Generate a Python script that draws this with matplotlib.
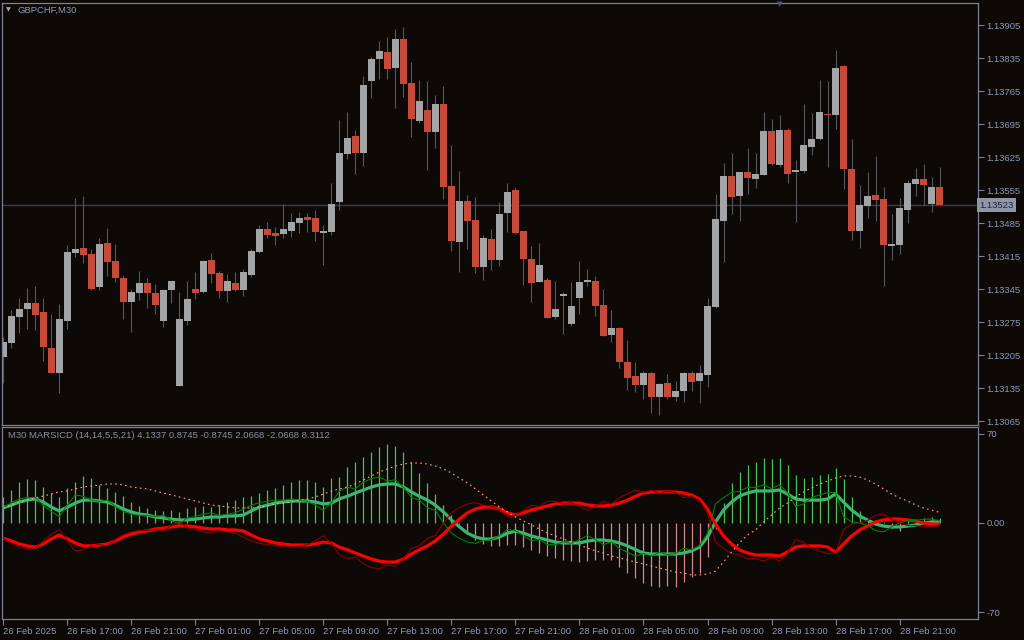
import numpy as np
import matplotlib.pyplot as plt

# GBPCHF M30 candles (26 Feb 13:00 -> 28 Feb 23:30)
opens = [1.13201, 1.13231, 1.13286, 1.13303, 1.13316, 1.13297, 1.13220, 1.13167, 1.13278, 1.13422,
         1.13432, 1.13419, 1.13350, 1.13443, 1.13405, 1.13369, 1.13318, 1.13337, 1.13358, 1.13337,
         1.13278, 1.13343, 1.13140, 1.13278, 1.13345, 1.13339, 1.13407, 1.13379, 1.13341, 1.13358,
         1.13343, 1.13375, 1.13424, 1.13472, 1.13464, 1.13462, 1.13468, 1.13485, 1.13498, 1.13496,
         1.13464, 1.13466, 1.13530, 1.13632, 1.13670, 1.13634, 1.13786, 1.13833, 1.13848, 1.13814,
         1.13875, 1.13782, 1.13701, 1.13725, 1.13678, 1.13737, 1.13564, 1.13445, 1.13532, 1.13492,
         1.13392, 1.13451, 1.13407, 1.13506, 1.13555, 1.13468, 1.13409, 1.13360, 1.13364, 1.13286,
         1.13330, 1.13271, 1.13326, 1.13360, 1.13362, 1.13311, 1.13248, 1.13263, 1.13191, 1.13161,
         1.13142, 1.13167, 1.13116, 1.13146, 1.13116, 1.13129, 1.13167, 1.13150, 1.13163, 1.13307,
         1.13489, 1.13585, 1.13543, 1.13593, 1.13579, 1.13587, 1.13680, 1.13608, 1.13682, 1.13593,
         1.13596, 1.13646, 1.13663, 1.13717, 1.13714, 1.13818, 1.13600, 1.13468, 1.13521, 1.13545,
         1.13536, 1.13437, 1.13439, 1.13513, 1.13568, 1.13579, 1.13526, 1.13562]
highs = [1.13244, 1.13301, 1.13326, 1.13347, 1.13352, 1.13326, 1.13292, 1.13314, 1.13439, 1.13538,
         1.13543, 1.13430, 1.13453, 1.13475, 1.13441, 1.13375, 1.13345, 1.13384, 1.13369, 1.13356,
         1.13345, 1.13362, 1.13339, 1.13362, 1.13381, 1.13407, 1.13422, 1.13384, 1.13377, 1.13381,
         1.13388, 1.13430, 1.13481, 1.13487, 1.13477, 1.13526, 1.13506, 1.13508, 1.13506, 1.13513,
         1.13481, 1.13570, 1.13704, 1.13721, 1.13682, 1.13797, 1.13837, 1.13871, 1.13880, 1.13897,
         1.13901, 1.13827, 1.13788, 1.13786, 1.13757, 1.13776, 1.13651, 1.13596, 1.13545, 1.13541,
         1.13460, 1.13472, 1.13530, 1.13570, 1.13562, 1.13468, 1.13436, 1.13443, 1.13369, 1.13362,
         1.13339, 1.13360, 1.13405, 1.13388, 1.13373, 1.13345, 1.13301, 1.13265, 1.13237, 1.13191,
         1.13172, 1.13169, 1.13146, 1.13165, 1.13150, 1.13169, 1.13172, 1.13184, 1.13326, 1.13547,
         1.13612, 1.13634, 1.13593, 1.13644, 1.13634, 1.13721, 1.13706, 1.13714, 1.13687, 1.13619,
         1.13737, 1.13719, 1.13788, 1.13786, 1.13852, 1.13820, 1.13663, 1.13566, 1.13593, 1.13627,
         1.13562, 1.13504, 1.13538, 1.13576, 1.13602, 1.13610, 1.13583, 1.13604]
lows = [1.13146, 1.13220, 1.13252, 1.13261, 1.13258, 1.13193, 1.13167, 1.13125, 1.13261, 1.13413,
        1.13400, 1.13343, 1.13343, 1.13373, 1.13360, 1.13282, 1.13254, 1.13322, 1.13305, 1.13292,
        1.13265, 1.13316, 1.13140, 1.13269, 1.13324, 1.13337, 1.13358, 1.13326, 1.13318, 1.13341,
        1.13330, 1.13371, 1.13422, 1.13453, 1.13439, 1.13453, 1.13456, 1.13464, 1.13466, 1.13447,
        1.13396, 1.13460, 1.13513, 1.13621, 1.13589, 1.13606, 1.13750, 1.13791, 1.13791, 1.13729,
        1.13752, 1.13668, 1.13697, 1.13598, 1.13644, 1.13536, 1.13426, 1.13381, 1.13430, 1.13379,
        1.13364, 1.13386, 1.13394, 1.13466, 1.13462, 1.13354, 1.13318, 1.13360, 1.13284, 1.13282,
        1.13250, 1.13267, 1.13292, 1.13352, 1.13288, 1.13246, 1.13233, 1.13178, 1.13131, 1.13127,
        1.13112, 1.13082, 1.13078, 1.13112, 1.13108, 1.13106, 1.13129, 1.13104, 1.13138, 1.13305,
        1.13403, 1.13504, 1.13490, 1.13547, 1.13559, 1.13587, 1.13608, 1.13604, 1.13570, 1.13487,
        1.13591, 1.13629, 1.13661, 1.13604, 1.13685, 1.13557, 1.13449, 1.13432, 1.13496, 1.13490,
        1.13352, 1.13407, 1.13420, 1.13485, 1.13543, 1.13524, 1.13509, 1.13523]
closes = [1.13233, 1.13288, 1.13303, 1.13316, 1.13290, 1.13222, 1.13167, 1.13282, 1.13424, 1.13430,
          1.13417, 1.13345, 1.13441, 1.13403, 1.13369, 1.13318, 1.13339, 1.13358, 1.13337, 1.13311,
          1.13343, 1.13362, 1.13282, 1.13324, 1.13337, 1.13405, 1.13377, 1.13341, 1.13362, 1.13343,
          1.13381, 1.13426, 1.13472, 1.13460, 1.13458, 1.13472, 1.13487, 1.13496, 1.13492, 1.13466,
          1.13468, 1.13526, 1.13634, 1.13665, 1.13634, 1.13778, 1.13833, 1.13850, 1.13812, 1.13875,
          1.13780, 1.13706, 1.13744, 1.13678, 1.13737, 1.13562, 1.13447, 1.13532, 1.13490, 1.13392,
          1.13453, 1.13407, 1.13504, 1.13551, 1.13464, 1.13409, 1.13358, 1.13396, 1.13284, 1.13303,
          1.13335, 1.13309, 1.13360, 1.13364, 1.13309, 1.13246, 1.13263, 1.13191, 1.13157, 1.13142,
          1.13167, 1.13116, 1.13144, 1.13116, 1.13129, 1.13167, 1.13148, 1.13167, 1.13309, 1.13494,
          1.13585, 1.13540, 1.13593, 1.13581, 1.13589, 1.13680, 1.13610, 1.13682, 1.13589, 1.13598,
          1.13651, 1.13663, 1.13721, 1.13714, 1.13814, 1.13600, 1.13468, 1.13524, 1.13543, 1.13535,
          1.13439, 1.13441, 1.13517, 1.13570, 1.13579, 1.13566, 1.13562, 1.13523]

# MARSICD (14,14,5,5,21) buffers
hist = [20.7, 26, 32.5, 34.4, 33.8, 28.6, 23.4, 20.7, 27.5, 32.5,
        37, 35.2, 29.9, 27.3, 24.6, 21.2, 16.8, 13.4, 11.5, 10.2,
        9.7, 10.2, 8.9, 11.5, 12.3, 13.4, 12.8, 14.2, 16.8, 18.1,
        20.7, 21.2, 23.4, 26, 27.3, 29.9, 32.5, 33.8, 33.8, 32.5,
        28.6, 35.2, 36.4, 44.3, 48, 52, 56, 60, 62, 60.6,
        56, 48, 39, 31.5, 22.8, 14.2, 6.3, -0.8, -7.9, -13.4,
        -16.5, -18.1, -18.1, -17.3, -17.3, -18.9, -21.2, -23.6, -26, -27.5,
        -29.1, -29.9, -30.7, -29.9, -29.1, -29.1, -29.1, -34.4, -39.3, -43.3,
        -47.2, -49.3, -50.1, -49.6, -50.1, -46.2, -42.2, -39.6, -26.5, -5,
        15.7, 31.5, 40.4, 45.6, 48.2, 50.9, 50.4, 50.9, 45.6, 37.8,
        35.6, 36, 37.8, 38.6, 43, 34.4, 20.7, 9.4, 2.4, 0,
        1, -3.9, -6.1, 2.4, 3.1, 3.7, 4.5, 4.1337]
green_slow = [12, 14, 16.5, 18, 19, 16.5, 12.5, 9.5, 12.5, 15.7,
              18, 18, 17.3, 16.5, 14, 11, 8.7, 7, 6.3, 4.7,
              4, 3, 2.4, 2.4, 3, 4, 4.7, 4.7, 5.5, 5.5,
              6.3, 9.5, 12.5, 14, 15.7, 16.5, 17.3, 17.3, 17.3, 16.5,
              15, 15.7, 19, 21, 23.6, 26, 28.3, 30, 30.7, 30.7,
              28.3, 24.4, 21, 18, 14, 8.7, 2.4, -3, -8, -11,
              -12.6, -12.6, -11, -8, -6.3, -8, -10.2, -11.8, -13.4, -15,
              -15.7, -15.7, -15.7, -14.2, -13.4, -13.4, -14.2, -15.7, -18, -21,
              -23.6, -24.4, -24.4, -24.4, -24.4, -23.6, -22, -18.9, -11, 0.8,
              10.2, 16.5, 21.2, 23.6, 25.2, 25.2, 25.2, 26, 22.8, 18.9,
              18, 18, 18, 18.9, 22.8, 16.5, 10.2, 5.5, 2.4, -0.8,
              -2.4, -3.1, -3.1, -2.4, -1.6, 0, 0.8, 0.8745]
red_slow = [-12, -14, -16.5, -18, -19, -16.5, -12.5, -9.5, -12.5, -15.7,
            -18, -18, -17.3, -16.5, -14, -11, -8.7, -7, -6.3, -4.7,
            -4, -3, -2.4, -2.4, -3, -4, -4.7, -4.7, -5.5, -5.5,
            -6.3, -9.5, -12.5, -14, -15.7, -16.5, -17.3, -17.3, -17.3, -16.5,
            -15, -15.7, -19, -21, -23.6, -26, -28.3, -30, -30.7, -30.7,
            -28.3, -24.4, -21, -18, -14, -8.7, -2.4, 3, 8, 11,
            12.6, 12.6, 11, 8, 6.3, 8, 10.2, 11.8, 13.4, 15,
            15.7, 15.7, 15.7, 14.2, 13.4, 13.4, 14.2, 15.7, 18, 21,
            23.6, 24.4, 24.4, 24.4, 24.4, 23.6, 22, 18.9, 11, -0.8,
            -10.2, -16.5, -21.2, -23.6, -25.2, -25.2, -25.2, -26, -22.8, -18.9,
            -18, -18, -18, -18.9, -22.8, -16.5, -10.2, -5.5, -2.4, 0.8,
            2.4, 3.1, 3.1, 2.4, 1.6, 0, -0.8, -0.8745]
green_fast = [12, 16, 19, 20, 20, 14, 9, 5, 14, 22,
              21, 18, 17, 18, 13, 9, 7, 6, 6, 5,
              6, 2, -1, 4, 5, 7, 8, 6, 7, 8,
              11, 14, 16, 17, 18, 18, 19, 18, 17, 14,
              10, 16, 25, 28, 27, 32, 35, 36, 33, 34,
              28, 20, 18, 12, 10, 0, -8, -12, -15, -16,
              -14, -13, -10, -5, -6, -10, -14, -13, -17, -17,
              -15, -16, -13, -10, -13, -17, -15, -20, -23, -26,
              -24, -26, -23, -25, -24, -20, -21, -18, -8, 15,
              20, 24, 25, 28, 28, 30, 27, 30, 24, 13,
              15, 20, 22, 24, 24, 5, 1, 0, -2, -6,
              -7, -3, 0, 2, 2, 3, 3, 2.0668]
red_fast = [-12, -16, -19, -20, -20, -14, -9, -5, -14, -22,
            -21, -18, -17, -18, -13, -9, -7, -6, -6, -5,
            -6, -2, 1, -4, -5, -7, -8, -6, -7, -8,
            -11, -14, -16, -17, -18, -18, -19, -18, -17, -14,
            -10, -16, -25, -28, -27, -32, -35, -36, -33, -34,
            -28, -20, -18, -12, -10, 0, 8, 12, 15, 16,
            14, 13, 10, 5, 6, 10, 14, 13, 17, 17,
            15, 16, 13, 10, 13, 17, 15, 20, 23, 26,
            24, 26, 23, 25, 24, 20, 21, 18, 8, -15,
            -20, -24, -25, -28, -28, -30, -27, -30, -24, -13,
            -15, -20, -22, -24, -24, -5, -1, 0, 2, 6,
            7, 3, 0, -2, -2, -3, -3, -2.0668]
signal = [11.8, 14.2, 16.5, 18.1, 19.7, 21.2, 22.8, 24.4, 25.2, 26.8,
          28.3, 29.1, 29.9, 30.7, 30.7, 29.9, 28.3, 27.5, 26.8, 25.2,
          23.6, 22, 20.5, 18.9, 17.3, 15.7, 14.2, 13.4, 12.6, 11.8,
          11.8, 11.8, 12.6, 13.4, 15, 15.7, 16.5, 18.1, 18.9, 20.5,
          22.8, 25.2, 26.8, 28.3, 30.7, 33.8, 37, 40.1, 42.5, 44.8,
          46.4, 47.2, 47.2, 46.4, 44.8, 42.5, 39.3, 35.4, 31.5, 26.8,
          22, 17.3, 12.6, 8.7, 4.7, 1.6, -1.6, -4.7, -7.9, -10.2,
          -12.6, -15, -17.3, -19.7, -22, -23.6, -26, -27.5, -29.1, -30.7,
          -32.3, -33.8, -35.4, -37, -38.6, -39.3, -40.9, -40.9, -40.1, -37.8,
          -30.7, -22.8, -15.7, -9.4, -5.5, 0.8, 6.3, 11.8, 15.7, 20.5,
          24.4, 27.5, 30.7, 33, 35.4, 37, 37, 36.2, 33.8, 30.7,
          26.8, 22.8, 19.7, 17.3, 14.2, 11.8, 10.2, 8.3112]

price_ticks = [1.13905, 1.13835, 1.13765, 1.13695, 1.13625, 1.13555, 1.13485,
               1.13415, 1.13345, 1.13275, 1.13205, 1.13135, 1.13065]
time_tick_bars = [0, 8, 16, 24, 32, 40, 48, 56, 64, 72, 80, 88, 96, 104, 112]
time_labels = ['26 Feb 2025', '26 Feb 17:00', '26 Feb 21:00', '27 Feb 01:00', '27 Feb 05:00',
               '27 Feb 09:00', '27 Feb 13:00', '27 Feb 17:00', '27 Feb 21:00', '28 Feb 01:00',
               '28 Feb 05:00', '28 Feb 09:00', '28 Feb 13:00', '28 Feb 17:00', '28 Feb 21:00']
last_price = 1.13523

BG = '#0c0907'
FRAME = '#7b8095'
TXT = '#8b98b4'
FONT = 'Liberation Sans'
FS = 6.8

plt.rcParams['font.family'] = [FONT, 'DejaVu Sans']

o = np.array(opens); h = np.array(highs); l = np.array(lows); c = np.array(closes)
x = np.arange(len(o))

fig = plt.figure(figsize=(10.24, 6.4), dpi=100, facecolor=BG)
W, H = 1024.0, 640.0
ax = fig.add_axes([2 / W, 1 - 424.5 / H, 976 / W, 422 / H], facecolor=BG)
ax2 = fig.add_axes([2 / W, 1 - 619 / H, 976 / W, 192 / H], facecolor=BG)

xlim = (-0.16, 121.8)

# candles
up = c >= o
ax.vlines(x, l, h, color='#55565c', lw=0.8, zorder=1)
body_lo = np.minimum(o, c)
body_h = np.maximum(np.abs(c - o), 0.00003)
ax.bar(x, body_h, bottom=body_lo, width=0.86,
       color=np.where(up, '#a3a4a6', '#c54a3a'), edgecolor='none', zorder=2)

ax.axhline(last_price, color='#3a3c52', lw=1.0, zorder=0)
ax.set_xlim(*xlim)
ax.set_ylim(1.13058, 1.13953)
ax.set_xticks([])
ax.yaxis.tick_right()
ax.set_yticks(price_ticks)
ax.set_yticklabels(['%.5f' % p for p in price_ticks])
ax.tick_params(axis='y', colors=FRAME, labelcolor=TXT, labelsize=FS, length=4, width=0.8, pad=2)
ax.text(1.0015, last_price, '%.5f' % last_price, transform=ax.get_yaxis_transform(),
        ha='left', va='center', fontsize=FS, color='#1d2440',
        bbox=dict(boxstyle='square,pad=0.25', fc='#8f96a6', ec='none'))

# indicator
ax2.vlines(x, 0, hist, colors=np.where(np.array(hist) >= 0, '#4ec34e', '#d9868e'), lw=0.9, zorder=1)
ax2.plot(x, green_slow, color='#3cb371', lw=2.3, zorder=2, solid_capstyle='butt')
ax2.plot(x, red_slow, color='#ff0000', lw=2.3, zorder=3, solid_capstyle='butt')
ax2.plot(x, green_fast, color='#008000', lw=0.8, zorder=4)
ax2.plot(x, red_fast, color='#8b0000', lw=0.8, zorder=4)
ax2.plot(x, signal, color='#ffa07a', lw=0.8, ls=(0, (1.5, 3)), zorder=5)
ax2.set_xlim(*xlim)
ax2.set_ylim(-75.5, 75.5)
ax2.yaxis.tick_right()
ax2.set_yticks([70, 0, -70])
ax2.set_yticklabels(['70', '0.00', '-70'])
ax2.tick_params(axis='y', colors=FRAME, labelcolor=TXT, labelsize=FS, length=4, width=0.8, pad=2)
ax2.set_xticks(time_tick_bars)
ax2.set_xticklabels(time_labels)
for lab in ax2.get_xticklabels():
    lab.set_horizontalalignment('left')
ax2.tick_params(axis='x', colors=FRAME, labelcolor=TXT, labelsize=FS, length=4, width=0.8, pad=2)
ax2.text(6 / 976, 1 - 8 / 192, 'M30 MARSICD (14,14,5,5,21) 4.1337 0.8745 -0.8745 2.0668 -2.0668 8.3112',
         transform=ax2.transAxes, ha='left', va='center', fontsize=FS, color='#8a8f9e')

for a in (ax, ax2):
    for s in a.spines.values():
        s.set_color(FRAME)
        s.set_linewidth(0.9)

fig.text(18 / W, 1 - 10 / H, 'GBPCHF,M30', ha='left', va='center', fontsize=FS, color=TXT)
fig.text(8.5 / W, 1 - 10 / H, '▼', ha='center', va='center', fontsize=4.5, color='#a3a8b8',
         family='DejaVu Sans')
fig.text(780 / W, 1 - 4 / H, '▼', ha='center', va='center', fontsize=5, color='#50587a',
         family='DejaVu Sans')

fig.savefig('out.png', dpi=100, facecolor=BG)
